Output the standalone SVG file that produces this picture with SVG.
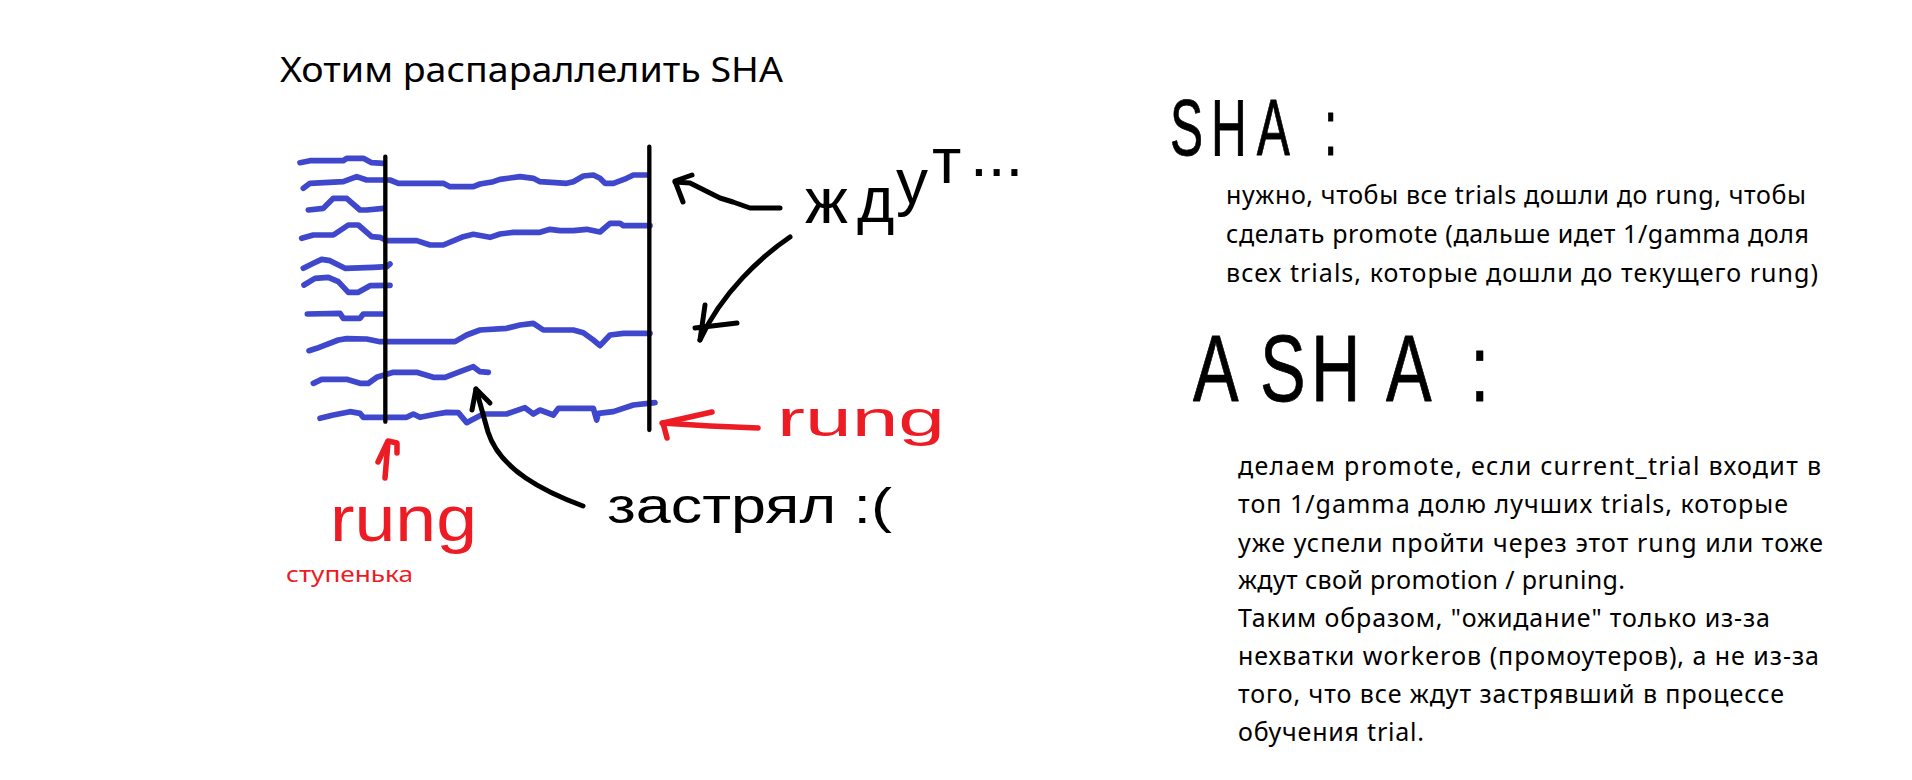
<svg xmlns="http://www.w3.org/2000/svg" width="1912" height="780" viewBox="0 0 1912 780">
<style>
.bg{fill:#ffffff}
.trial{fill:none;stroke:#3f48cc;stroke-width:17;stroke-linecap:round;stroke-linejoin:round}
.rung{fill:none;stroke:#000;stroke-width:13;stroke-linecap:round}
.ink{fill:none;stroke:#000;stroke-width:5;stroke-linecap:round;stroke-linejoin:round}
.red{fill:none;stroke:#ed1c24;stroke-width:5.5;stroke-linecap:round;stroke-linejoin:round}
.txt{font-family:"Noto Sans","Open Sans","DejaVu Sans",sans-serif;fill:#000}
.hand{font-family:"Liberation Sans","DejaVu Sans",sans-serif;fill:#000}
.head{font-family:"Liberation Sans","DejaVu Sans",sans-serif;fill:#000;stroke:#000;stroke-width:0.8;stroke-linejoin:round}
.handred{font-family:"Liberation Sans","DejaVu Sans",sans-serif;fill:#ed1c24}
</style>
<rect class="bg" x="0" y="0" width="1912" height="780"/>

<g id="title">
<text class="txt" x="280" y="82" font-size="35" textLength="503" lengthAdjust="spacingAndGlyphs">Хотим распараллелить SHA</text>
</g>

<g id="trials" transform="translate(280 140) scale(0.33333)">
<polyline class="trial" points="60,68 90,62 190,62 200,55 250,55 275,68 310,70"/>
<polyline class="trial" points="70,145 90,130 190,125 230,110 260,120 330,120 355,130 490,130 510,140 580,140 600,132 640,125 660,118 720,110 760,115 780,125 860,130 880,125 910,108 940,105 960,115 975,130 1000,130 1040,115 1060,105 1100,105"/>
<polyline class="trial" points="85,210 130,205 160,175 200,175 240,210 260,210 310,205"/>
<polyline class="trial" points="65,295 100,285 160,285 205,255 235,255 275,290 300,292 320,302 410,302 450,315 490,315 550,290 580,283 630,292 660,282 700,277 780,277 810,268 840,272 880,272 920,268 960,276 990,250 1020,250 1030,257 1110,257"/>
<polyline class="trial" points="70,385 100,370 125,358 150,362 195,385 280,382 320,380 330,372"/>
<polyline class="trial" points="72,435 105,415 145,412 175,425 205,457 235,457 270,437 330,436"/>
<polyline class="trial" points="82,522 180,520 190,535 240,535 250,522 310,522"/>
<polyline class="trial" points="87,632 110,625 175,600 200,596 260,597 300,605 525,605 560,585 600,570 680,565 720,555 760,550 790,570 880,570 910,578 940,600 960,617 990,585 1030,580 1110,580"/>
<polyline class="trial" points="100,730 125,718 200,718 240,730 265,730 290,712 340,697 410,697 460,712 495,712 540,695 580,680 600,695 625,697"/>
<polyline class="trial" points="120,835 160,825 210,815 240,820 250,832 380,832 400,822 420,832 470,822 500,817 535,818 560,848 575,840 610,822 680,822 735,803 760,822 780,810 820,825 835,805 940,805 950,840 955,820 1000,815 1060,795 1125,788"/>
</g>

<g id="rungs" transform="translate(280 140) scale(0.33333)">
<line class="rung" x1="316" y1="50" x2="316" y2="845"/>
<line class="rung" x1="1108" y1="20" x2="1108" y2="870"/>
</g>

<g id="connectors">
<path class="ink" d="M780,208 L750,208 L733,202 L720,198 L690,183 L675,182"/>
<path class="ink" d="M692,175 L675,181 L683,202"/>
<path class="ink" d="M790,237 C762,256 722,292 700,340"/>
<path class="ink" d="M705,305 L700,340 M695,328 L737,323"/>
<path class="ink" d="M583,506 C545,492 500,470 488,432 L476,389"/>
<path class="ink" d="M472,410 L476,389 L490,403"/>
<path class="red" d="M758,428 L710,426 L662,423"/>
<path class="red" d="M712,412 L663,423 L667,438"/>
<path class="red" d="M385,478 L388,442"/>
<path class="red" d="M378,462 L388,441 L397,443 L397,453"/>
</g>

<g id="label-wait">
<text class="hand" font-size="64"><tspan x="805" y="223">ж</tspan><tspan x="857" y="222">д</tspan><tspan x="896" y="204">у</tspan><tspan x="932" y="183">т</tspan><tspan x="970" y="176">...</tspan></text>
</g>

<g id="label-stuck">
<text class="hand" x="607" y="523" font-size="50" textLength="285" lengthAdjust="spacingAndGlyphs">застрял :(</text>
</g>

<g id="label-rung-right">
<text class="handred" x="777" y="436" font-size="50" textLength="168" lengthAdjust="spacingAndGlyphs">rung</text>
</g>

<g id="label-rung-left">
<text class="handred" x="330" y="541" font-size="64" textLength="147" lengthAdjust="spacingAndGlyphs">rung</text>
<text class="handred" style="font-family:'Noto Sans','Open Sans',sans-serif" x="286" y="582" font-size="21" textLength="127" lengthAdjust="spacingAndGlyphs">ступенька</text>
</g>

<g id="sha-heading" transform="translate(1170 155) scale(0.62 1)">
<text class="head" font-size="80"><tspan x="0">S</tspan><tspan x="66">H</tspan><tspan x="140">A</tspan><tspan x="248">:</tspan></text>
</g>

<g id="sha-text">
<text class="txt" font-size="25" lengthAdjust="spacing">
<tspan x="1226" y="204" textLength="580">нужно, чтобы все trials дошли до rung, чтобы</tspan>
<tspan x="1226" y="243" textLength="583">сделать promote (дальше идет 1/gamma доля</tspan>
<tspan x="1226" y="282" textLength="592">всех trials, которые дошли до текущего rung)</tspan>
</text>
</g>

<g id="asha-heading" transform="translate(1193 401) scale(0.72 1)">
<text class="head" font-size="95"><tspan x="0">A</tspan><tspan x="93">S</tspan><tspan x="164">H</tspan><tspan x="268">A</tspan><tspan x="385">:</tspan></text>
</g>

<g id="asha-text">
<text class="txt" font-size="25">
<tspan x="1238" y="475" textLength="583">делаем promote, если current_trial входит в</tspan>
<tspan x="1238" y="513" textLength="550">топ 1/gamma долю лучших trials, которые</tspan>
<tspan x="1238" y="552" textLength="585">уже успели пройти через этот rung или тоже</tspan>
<tspan x="1238" y="589" textLength="387">ждут свой promotion / pruning.</tspan>
<tspan x="1238" y="627" textLength="532">Таким образом, "ожидание" только из-за</tspan>
<tspan x="1238" y="665" textLength="581">нехватки workerов (промоутеров), а не из-за</tspan>
<tspan x="1238" y="703" textLength="546">того, что все ждут застрявший в процессе</tspan>
<tspan x="1238" y="741" textLength="186">обучения trial.</tspan>
</text>
</g>
</svg>
